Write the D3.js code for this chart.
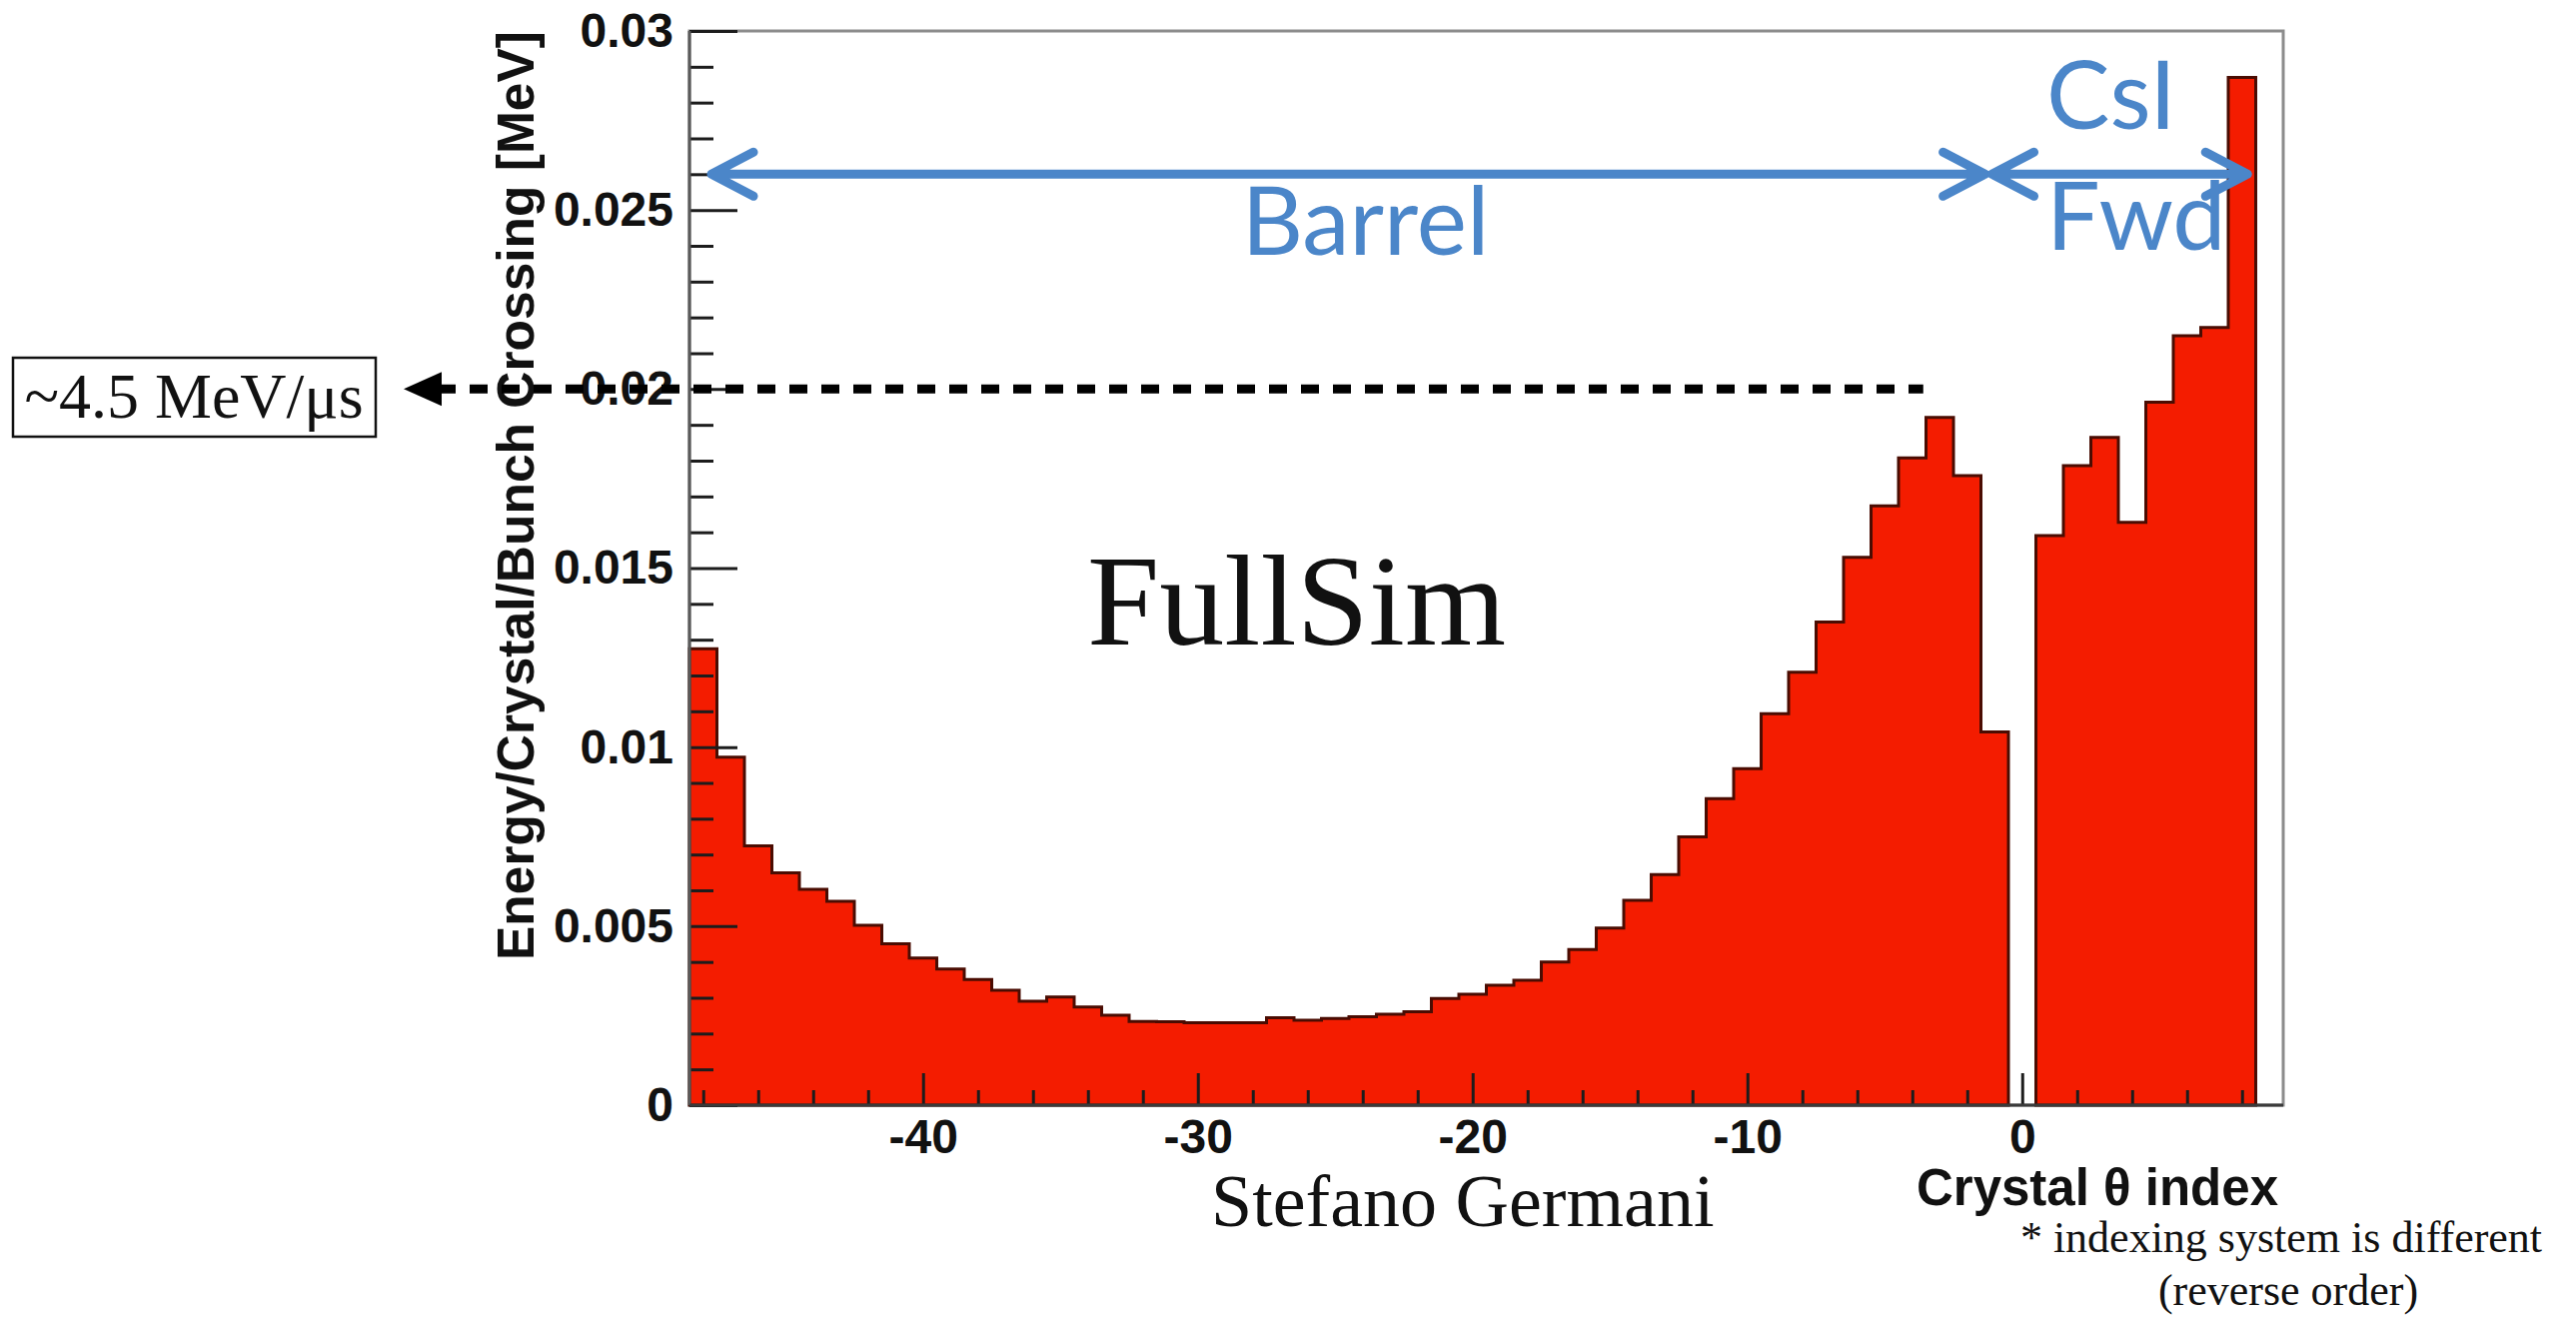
<!DOCTYPE html>
<html>
<head>
<meta charset="utf-8">
<script src="https://cdn.jsdelivr.net/npm/d3@7"></script>
<style>
  html, body { margin: 0; padding: 0; background: #ffffff; }
  svg { display: block; }
</style>
</head>
<body>
<svg id="chart" width="2578" height="1322"></svg>
<script>
// Crystal theta index of each histogram bin (bin 0 is the barrel / forward gap)
const crystalIndex = [
  -48, -47, -46, -45, -44, -43, -42, -41, -40, -39,
  -38, -37, -36, -35, -34, -33, -32, -31, -30, -29,
  -28, -27, -26, -25, -24, -23, -22, -21, -20, -19,
  -18, -17, -16, -15, -14, -13, -12, -11, -10, -9,
  -8, -7, -6, -5, -4, -3, -2, -1, 0, 1,
  2, 3, 4, 5, 6, 7, 8
];

// Energy per crystal per bunch crossing [MeV]
const energyPerCrystal = [
  0.01275, 0.00972, 0.00724, 0.00649, 0.00603, 0.00569, 0.00502, 0.00451, 0.00411, 0.00380,
  0.00351, 0.00321, 0.00290, 0.00302, 0.00274, 0.00251, 0.00234, 0.00233, 0.00230, 0.00230,
  0.00230, 0.00244, 0.00237, 0.00242, 0.00247, 0.00254, 0.00261, 0.00298, 0.00310, 0.00335,
  0.00349, 0.00400, 0.00435, 0.00495, 0.00572, 0.00644, 0.00749, 0.00856, 0.00940, 0.01093,
  0.01209, 0.01349, 0.01530, 0.01674, 0.01808, 0.01921, 0.01758, 0.01042, 0, 0.01591,
  0.01786, 0.01865, 0.01628, 0.01963, 0.02149, 0.02172, 0.02870
];

const xTickValues = [-40, -30, -20, -10, 0];
const xTickLabels = ["-40", "-30", "-20", "-10", "0"];
const yTickValues = [0, 0.005, 0.01, 0.015, 0.02, 0.025, 0.03];
const yTickLabels = ["0", "0.005", "0.01", "0.015", "0.02", "0.025", "0.03"];

const xTitle = "Crystal \u03B8 index";
const yTitle = "Energy/Crystal/Bunch Crossing [MeV]";

// Reference level marked by the dashed arrow, and its label
const rateLevel = 0.02;
const rateLabel = "~4.5 MeV/\u03BCs";

// Detector regions spanned by the blue double arrows (crystal index units)
const regionNames = ["Barrel", "CsI", "Fwd"];
const barrelSpan = [-47.7, -1.35];
const forwardSpan = [-1.1, 8.2];
const regionArrowLevel = 0.0260;

const notes = ["FullSim", "Stefano Germani", "* indexing system is different", "(reverse order)"];

// ---------------------------------------------------------------------------
const svg = d3.select("#chart");
const W = 2578, H = 1322;
const frame = { left: 690, right: 2285, top: 31, bottom: 1106 };

const x = d3.scaleLinear().domain([-48.5, 9.5]).range([frame.left, frame.right]);
const y = d3.scaleLinear().domain([0, 0.03]).range([frame.bottom, frame.top]);

const RED = "#f41c00";
const BLUE = "#4b86c9";
const ROOT_FONT = "'Liberation Sans', Arial, Helvetica, sans-serif";
const SERIF = "'Liberation Serif', 'Times New Roman', serif";
const SLIDE_SANS = "Lato, 'Open Sans', sans-serif";

svg.append("rect").attr("width", W).attr("height", H).attr("fill", "#ffffff");

// plot frame
svg.append("rect")
  .attr("x", frame.left).attr("y", frame.top)
  .attr("width", frame.right - frame.left).attr("height", frame.bottom - frame.top)
  .attr("fill", "#ffffff")
  .attr("stroke", "#8c8c8c").attr("stroke-width", 3);

// histogram: one closed step contour per run of non-empty bins
const bins = crystalIndex.map((c, i) => ({ lo: c - 0.5, hi: c + 0.5, v: energyPerCrystal[i] }));
const runs = [];
let cur = null;
bins.forEach(b => {
  if (b.v > 0) {
    if (!cur) { cur = []; runs.push(cur); }
    cur.push(b);
  } else {
    cur = null;
  }
});

const stepLine = d3.line().x(d => x(d[0])).y(d => y(d[1]));
runs.forEach(run => {
  const pts = [[run[0].lo, 0]];
  run.forEach(b => { pts.push([b.lo, b.v]); pts.push([b.hi, b.v]); });
  pts.push([run[run.length - 1].hi, 0]);
  svg.append("path")
    .attr("d", stepLine(pts) + "Z")
    .attr("fill", RED)
    .attr("stroke", "#4a0c02")
    .attr("stroke-width", 3)
    .attr("stroke-linejoin", "miter");
});

// axes, ticks drawn inward as in ROOT
const minorY = d3.range(0, 0.0305, 0.001).filter(v => Math.abs(v / 0.005 - Math.round(v / 0.005)) > 1e-6);
const minorX = d3.range(-48, 9.5, 2).filter(v => v % 10 !== 0);

function styleAxis(g) {
  g.attr("color", "#1c1c1c");
  g.select(".domain").remove();
  g.selectAll(".tick line").attr("stroke-width", 3);
}

svg.append("g")
  .attr("transform", `translate(${frame.left},0)`)
  .call(d3.axisLeft(y).tickValues(minorY).tickFormat("").tickSizeInner(-24).tickSizeOuter(0))
  .call(styleAxis);

svg.append("g")
  .attr("transform", `translate(0,${frame.bottom})`)
  .call(d3.axisBottom(x).tickValues(minorX).tickFormat("").tickSizeInner(-15).tickSizeOuter(0))
  .call(styleAxis);

const yAxis = svg.append("g")
  .attr("transform", `translate(${frame.left},0)`)
  .call(d3.axisLeft(y).tickValues(yTickValues).tickFormat((d, i) => yTickLabels[i])
    .tickSizeInner(-48).tickSizeOuter(0).tickPadding(16))
  .call(styleAxis);

const xAxis = svg.append("g")
  .attr("transform", `translate(0,${frame.bottom})`)
  .call(d3.axisBottom(x).tickValues(xTickValues).tickFormat((d, i) => xTickLabels[i])
    .tickSizeInner(-32).tickSizeOuter(0).tickPadding(14))
  .call(styleAxis);

[yAxis, xAxis].forEach(g => g.selectAll(".tick text")
  .attr("font-family", ROOT_FONT).attr("font-weight", "bold").attr("font-size", 48)
  .attr("fill", "#111"));

// axis lines
svg.append("line")
  .attr("x1", frame.left).attr("x2", frame.left)
  .attr("y1", frame.top).attr("y2", frame.bottom)
  .attr("stroke", "#5a5a5a").attr("stroke-width", 3);
svg.append("line")
  .attr("x1", frame.left).attr("x2", frame.right)
  .attr("y1", frame.bottom).attr("y2", frame.bottom)
  .attr("stroke", "#3a3a3a").attr("stroke-width", 3);

// axis titles
svg.append("text")
  .attr("transform", `translate(534,${frame.top}) rotate(-90)`)
  .attr("text-anchor", "end")
  .attr("font-family", ROOT_FONT).attr("font-weight", "bold").attr("font-size", 51.5)
  .attr("fill", "#111")
  .text(yTitle);

svg.append("text")
  .attr("x", 2280).attr("y", 1206)
  .attr("text-anchor", "end")
  .attr("font-family", ROOT_FONT).attr("font-weight", "bold").attr("font-size", 51)
  .attr("fill", "#111")
  .text(xTitle);

// region arrows
function doubleArrow(span, level) {
  const x1 = x(span[0]), x2 = x(span[1]), yy = y(level);
  const ax = 42, ay = 22;
  const d = `M${x1},${yy}L${x2},${yy}` +
    `M${x1 + ax},${yy - ay}L${x1},${yy}L${x1 + ax},${yy + ay}` +
    `M${x2 - ax},${yy - ay}L${x2},${yy}L${x2 - ax},${yy + ay}`;
  svg.append("path")
    .attr("d", d)
    .attr("fill", "none")
    .attr("stroke", BLUE).attr("stroke-width", 9)
    .attr("stroke-linecap", "round").attr("stroke-linejoin", "round");
}
doubleArrow(barrelSpan, regionArrowLevel);
doubleArrow(forwardSpan, regionArrowLevel);

svg.append("text")
  .attr("x", x(-23.9)).attr("y", 255)
  .attr("text-anchor", "middle")
  .attr("font-family", SLIDE_SANS).attr("font-size", 95)
  .attr("fill", BLUE)
  .text(regionNames[0]);
svg.append("text")
  .attr("x", 2048).attr("y", 129)
  .attr("font-family", SLIDE_SANS).attr("font-size", 95)
  .attr("fill", BLUE)
  .text(regionNames[1]);
svg.append("text")
  .attr("x", 2048).attr("y", 250)
  .attr("font-family", SLIDE_SANS).attr("font-size", 95)
  .attr("fill", BLUE)
  .text(regionNames[2]);

// free text
svg.append("text")
  .attr("x", 1088).attr("y", 645)
  .attr("font-family", SERIF).attr("font-size", 130)
  .attr("fill", "#111")
  .text(notes[0]);
svg.append("text")
  .attr("x", 1212).attr("y", 1227)
  .attr("font-family", SERIF).attr("font-size", 74)
  .attr("fill", "#111")
  .text(notes[1]);
svg.append("text")
  .attr("x", 2283).attr("y", 1253)
  .attr("text-anchor", "middle")
  .attr("font-family", SERIF).attr("font-size", 44)
  .attr("fill", "#111")
  .text(notes[2]);
svg.append("text")
  .attr("x", 2290).attr("y", 1306)
  .attr("text-anchor", "middle")
  .attr("font-family", SERIF).attr("font-size", 44)
  .attr("fill", "#111")
  .text(notes[3]);

// rate box and dashed arrow at the reference level
const rateY = y(rateLevel);
svg.append("rect")
  .attr("x", 13).attr("y", 358).attr("width", 363).attr("height", 79)
  .attr("fill", "#ffffff").attr("stroke", "#111").attr("stroke-width", 2.5);
svg.append("text")
  .attr("x", 194).attr("y", 418)
  .attr("text-anchor", "middle")
  .attr("font-family", SERIF).attr("font-size", 64)
  .attr("fill", "#111")
  .text(rateLabel);

svg.append("line")
  .attr("x1", 438).attr("x2", x(-3.6))
  .attr("y1", rateY).attr("y2", rateY)
  .attr("stroke", "#000").attr("stroke-width", 9)
  .attr("stroke-dasharray", "18 14");
svg.append("path")
  .attr("d", `M404,${rateY}L442,${rateY - 17}L442,${rateY + 17}Z`)
  .attr("fill", "#000");
</script>
</body>
</html>
